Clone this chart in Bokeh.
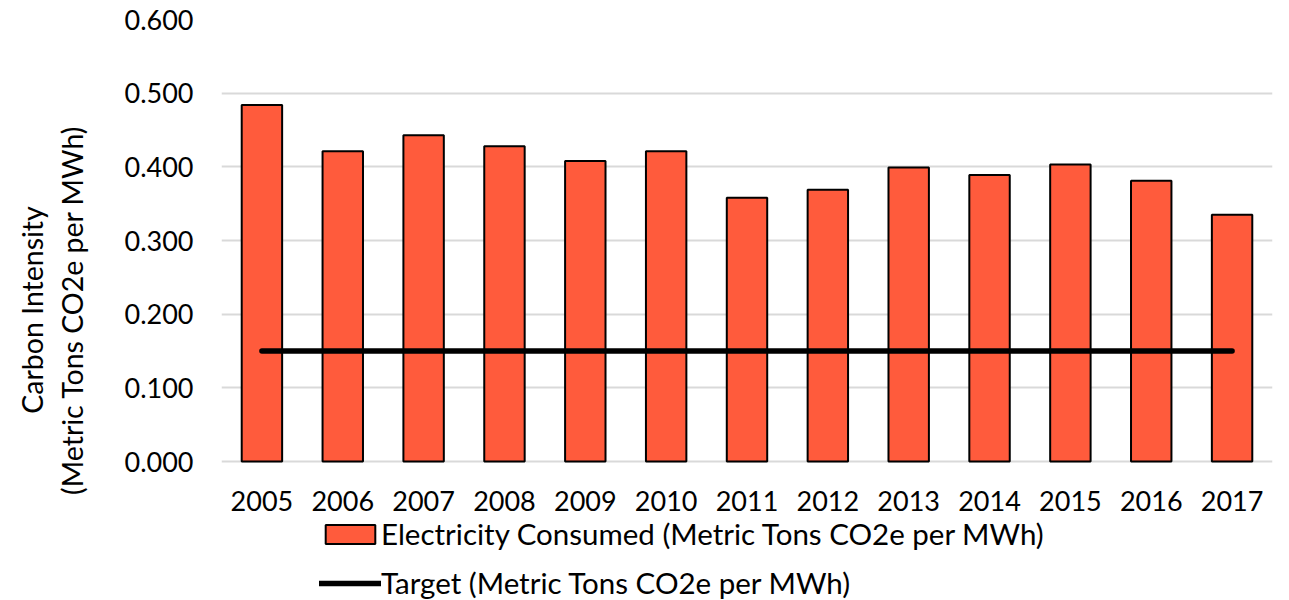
from bokeh.plotting import figure
from bokeh.models import (FactorRange, Range1d, NumeralTickFormatter, Legend, LegendItem,
                          ColumnDataSource, CategoricalAxis)
from bokeh.embed import file_html
from bokeh.resources import INLINE

years = ["2005", "2006", "2007", "2008", "2009", "2010", "2011", "2012", "2013", "2014", "2015", "2016", "2017"]
electricity = [0.484, 0.421, 0.443, 0.428, 0.408, 0.421, 0.358, 0.369, 0.399, 0.389, 0.403, 0.381, 0.335]
target = [0.150] * 13
y_ticks = [0.0, 0.1, 0.2, 0.3, 0.4, 0.5, 0.6]

FONT = "Lato"

FRAME_H = 581          # frame runs to bottom of page; value axis occupies top 442 px
DATA_H = 442
y_top = 0.6
y_bottom = -y_top * (FRAME_H - DATA_H) / DATA_H

p = figure(frame_width=1051, frame_height=FRAME_H,
           x_range=FactorRange(factors=years, range_padding=0),
           y_range=Range1d(y_bottom, y_top), output_backend="svg", toolbar_location=None,
           x_axis_location=None,
           min_border_left=221, min_border_right=1, min_border_top=19, min_border_bottom=0)
p.outline_line_color = None

src = ColumnDataSource(dict(x=years, y=electricity, t=target))
bars = p.vbar(x="x", top="y", width=0.5, source=src, fill_color="#FF5B3C",
              line_color="black", line_width=2)
tline = p.line(x="x", y="t", source=src, line_color="black", line_width=5.5, line_cap="round")

xaxis = CategoricalAxis(fixed_location=0)
p.add_layout(xaxis, "below")

p.xgrid.grid_line_color = None
p.ygrid.grid_line_color = "#d9d9d9"
p.ygrid.grid_line_width = 2
p.yaxis.ticker = y_ticks
p.yaxis.formatter = NumeralTickFormatter(format="0.000")

for ax in (xaxis, p.yaxis[0]):
    ax.axis_line_color = None
    ax.major_tick_line_color = None
    ax.minor_tick_line_color = None
    ax.major_label_text_font = FONT
    ax.major_label_text_font_size = "27px"
    ax.major_label_text_color = "black"

xaxis.major_label_standoff = 23
p.yaxis.major_label_standoff = 22
p.yaxis.axis_label = "Carbon Intensity\n(Metric Tons CO2e per MWh)"
p.yaxis.axis_label_text_font = FONT
p.yaxis.axis_label_text_font_size = "28.5px"
p.yaxis.axis_label_text_font_style = "normal"
p.yaxis.axis_label_text_color = "black"
p.yaxis.axis_label_text_line_height = 1.2
p.yaxis.axis_label_standoff = 32

legend = Legend(items=[
    LegendItem(label="Electricity Consumed (Metric Tons CO2e per MWh)", renderers=[bars]),
    LegendItem(label="Target (Metric Tons CO2e per MWh)", renderers=[tline]),
], location=(98, 0), orientation="vertical")
legend.margin = 0
legend.padding = 0
legend.border_line_color = None
legend.background_fill_alpha = 0
legend.glyph_width = 62
legend.glyph_height = 24
legend.label_height = 34
legend.spacing = 14
legend.label_standoff = 0
legend.label_text_font = FONT
legend.label_text_font_size = "29.5px"
legend.label_text_color = "black"
p.add_layout(legend, "center")

open("out.html", "w").write(file_html(p, INLINE))
